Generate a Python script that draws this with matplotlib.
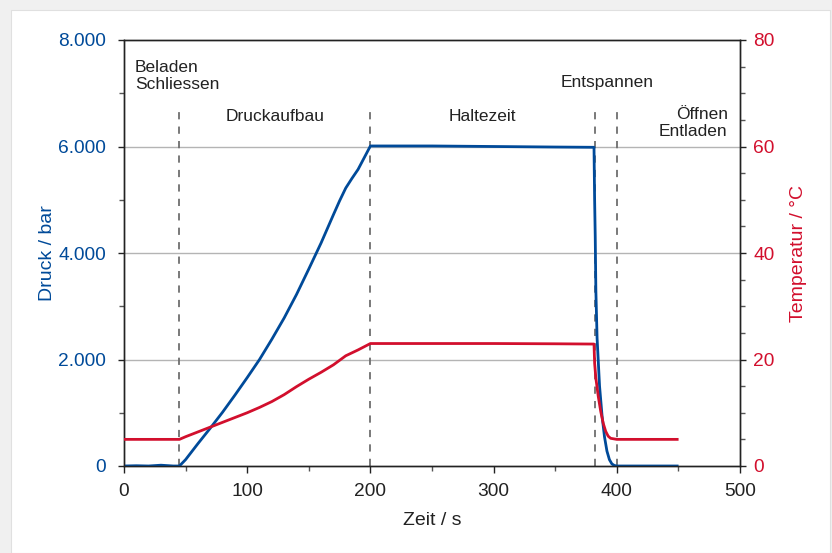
import matplotlib.pyplot as plt
from matplotlib.patches import Rectangle
from matplotlib.ticker import MultipleLocator, FuncFormatter

plt.rcParams['font.family'] = ['Liberation Sans', 'DejaVu Sans']

# Druck (bar) über Zeit (s)
t_druck = [0, 10, 20, 30, 40, 45, 50, 60, 70, 80, 90, 100, 110, 120, 130, 140,
           150, 160, 170, 175, 180, 185, 190, 195, 200, 250, 300, 350, 381.5,
           382, 382.5, 383, 384, 386, 388, 390, 392, 394, 396, 398, 400, 420, 449]
druck = [0, 5, 0, 15, 0, 0, 120, 420, 710, 1010, 1330, 1660, 2000, 2380, 2780, 3220,
         3700, 4190, 4720, 4980, 5220, 5400, 5570, 5790, 6010, 6010, 6000, 5990, 5985,
         5000, 4300, 3300, 2400, 1500, 950, 550, 280, 120, 40, 10, 0, 0, 0]

# Temperatur (°C) über Zeit (s)
t_temp = [0, 20, 40, 45, 50, 60, 70, 80, 90, 100, 110, 120, 130, 140, 150, 160,
          170, 180, 190, 200, 250, 300, 350, 381.5, 382, 383, 385, 387, 389, 391,
          393, 395, 400, 449]
temp = [5.0, 5.0, 5.0, 5.0, 5.5, 6.4, 7.3, 8.2, 9.1, 10.0, 11.0, 12.1, 13.4, 14.9,
        16.3, 17.6, 19.0, 20.7, 21.8, 23.0, 23.0, 23.0, 22.95, 22.9, 19.3, 16.5, 13.0,
        10.2, 8.0, 6.5, 5.6, 5.2, 5.0, 5.0]

phasen_x = [45, 200, 382, 400]
phasen_text = ["Beladen\nSchliessen", "Druckaufbau", "Haltezeit", "Entspannen", "Öffnen\nEntladen"]

blau = '#004a99'
rot = '#d20f2d'

fig = plt.figure(figsize=(8.32, 5.53), dpi=100, facecolor='#f0f0f0')
fig.patches.append(Rectangle((11 / 832, 0), 819 / 832, 543 / 553, transform=fig.transFigure,
                             facecolor='white', edgecolor='#e0e0e0', lw=0.8, zorder=-10))

ax = fig.add_axes([124 / 832, 1 - 466 / 553, 616 / 832, 426 / 553])
ax.set_facecolor('none')
ax2 = ax.twinx()
ax2.set_facecolor('none')

ax.set_xlim(0, 500)
ax.set_ylim(0, 8000)
ax2.set_ylim(0, 80)

for y in [2000, 4000, 6000]:
    ax.axhline(y, color='#b4b4b4', lw=1, zorder=1)

for x in phasen_x:
    ax.plot([x, x], [0, 6720], color='#6e6e6e', lw=1.3, dashes=(4, 4), zorder=2)

ax.plot(t_druck, druck, color=blau, lw=2, zorder=4)
ax2.plot(t_temp, temp, color=rot, lw=2, zorder=3)

ax.xaxis.set_major_locator(MultipleLocator(100))
ax.xaxis.set_minor_locator(MultipleLocator(50))
ax.yaxis.set_major_locator(MultipleLocator(2000))
ax.yaxis.set_minor_locator(MultipleLocator(1000))
ax.yaxis.set_major_formatter(FuncFormatter(lambda v, p: f"{int(v):,}".replace(",", ".")))
ax2.yaxis.set_major_locator(MultipleLocator(20))
ax2.yaxis.set_minor_locator(MultipleLocator(5))

for a in (ax, ax2):
    for s in a.spines.values():
        s.set_color('#222222')
        s.set_linewidth(1)
    a.tick_params(which='major', length=4.5, width=1, color='#222222', labelsize=13.8)
    a.tick_params(which='minor', length=3.5, width=1, color='#555555')

ax.tick_params(axis='x', labelcolor='#222222', top=False, which='both')
ax.tick_params(axis='x', which='major', length=5, pad=7)
ax.tick_params(axis='y', labelcolor=blau, pad=8.5)
ax2.tick_params(axis='y', labelcolor=rot, pad=5)

ax.set_xlabel("Zeit / s", fontsize=14, color='#222222', labelpad=9)
ax.set_ylabel("Druck / bar", fontsize=14, color=blau)
ax.yaxis.set_label_coords(-0.11, 0.5)
ax2.set_ylabel("Temperatur / °C", fontsize=14, color=rot)
ax2.yaxis.set_label_coords(1.081, 0.5)

tc = '#222222'
ax.text(9, 7624, phasen_text[0], fontsize=12.5, color=tc, ha='left', va='top')
ax.text(123, 6554, phasen_text[1], fontsize=12.5, color=tc, ha='center', va='center')
ax.text(291, 6554, phasen_text[2], fontsize=12.5, color=tc, ha='center', va='center')
ax.text(392, 7200, phasen_text[3], fontsize=12.5, color=tc, ha='center', va='center')
ax.text(490, 6441, phasen_text[4], fontsize=12.5, color=tc, ha='right', va='center',
        multialignment='right')

fig.savefig("out.png", dpi=100, facecolor=fig.get_facecolor())
